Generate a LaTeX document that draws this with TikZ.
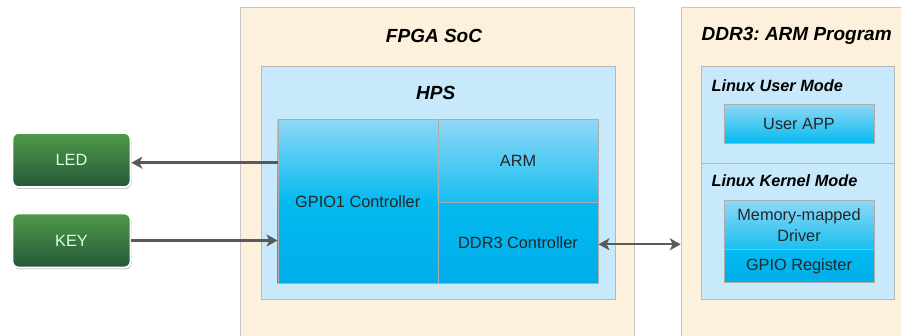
\documentclass[tikz,border=0pt]{standalone}
\usepackage{fontspec}
\setmainfont{Liberation Sans}
\usepackage{tikz}
\usetikzlibrary{arrows.meta,positioning,shadows}
\usepackage{xcolor}

\definecolor{socbg}{HTML}{FDF0DC}
\definecolor{hpsbg}{HTML}{C8E9FB}
\definecolor{celltop}{HTML}{8FD8F6}
\definecolor{cellmid}{HTML}{04BAF0}
\definecolor{cellbot}{HTML}{00ADE9}
\definecolor{iotop}{HTML}{509A4A}
\definecolor{iobot}{HTML}{245838}

\begin{document}
\begin{tikzpicture}[
  x=1pt, y=-1pt,
  panel/.style={draw=black!22, fill=socbg, anchor=north west, inner sep=0pt},
  hpsbox/.style={draw=black!28, fill=hpsbg, anchor=north west, inner sep=0pt},
  cell/.style={draw=black!32, font=\fontsize{16.3}{21}\selectfont, text=black!85,
    align=center, inner sep=0pt},
  io/.style={draw=white, line width=1.8pt, rounded corners=6pt,
    top color=iotop, bottom color=iobot,
    drop shadow={shadow xshift=1pt, shadow yshift=-2pt, opacity=0.2, fill=black},
    minimum width=118, minimum height=54, font=\fontsize{16.3}{19}\selectfont,
    text=white!88!green},
  title/.style={font=\fontsize{19}{22}\selectfont\bfseries\itshape},
  mode/.style={font=\fontsize{16.3}{19}\selectfont\bfseries\itshape, anchor=west},
  tip/.style={},
  link/.style={draw=black!65, line width=2.4pt,
    -{Stealth[length=11pt,width=12pt,inset=3pt]}},
  dlink/.style={draw=black!65, line width=2.4pt,
    {Stealth[length=11pt,width=12pt,inset=3pt]}-{Stealth[length=11pt,width=12pt,inset=3pt]}}
]
  \useasboundingbox (0,0) rectangle (901,336);
  \clip (0,0) rectangle (901,336);

  % FPGA SoC panel
  \node[panel, minimum width=394, minimum height=360] (soc) at (240,7.3) {};
  \node[title] (soct) at (434,36) {FPGA SoC};
  \node[hpsbox, minimum width=354.3, minimum height=233.3] (hps) at (260.7,65.7) {};
  \node[title] (hpst) at (435.7,93) {HPS};

  % HPS blocks
  \node[cell, top color=celltop, bottom color=cellbot, middle color=cellmid,
    minimum width=160, minimum height=164] (gpio) at (357.7,201.3) {GPIO1 Controller};
  \node[cell, top color=celltop, bottom color=cellmid!85!celltop,
    minimum width=160.6, minimum height=82.7] (arm) at (518,160.7) {ARM};
  \node[cell, top color=cellmid, bottom color=cellbot,
    minimum width=160.6, minimum height=81.3] (ddrc) at (518,242.7) {DDR3 Controller};

  % DDR3 program panel
  \node[panel, minimum width=232, minimum height=360] (prog) at (680.7,7.3) {};
  \node[title] (progt) at (796.7,36) {DDR3:\ ARM Program};
  \node[hpsbox, minimum width=193, minimum height=97.6] (umode) at (701,65.7) {};
  \node[hpsbox, minimum width=193, minimum height=135.7] (kmode) at (701,163.3) {};
  \node[mode] (umodet) at (708,85.7) {Linux User Mode};
  \node[mode] (kmodet) at (708,181) {Linux Kernel Mode};
  \node[cell, top color=celltop, bottom color=cellmid,
    minimum width=149.4, minimum height=39.3] (app) at (799,123.7) {User APP};
  \node[cell, top color=celltop, bottom color=cellmid!85!celltop,
    minimum width=149.4, minimum height=49.3] (drv) at (799,224.7) {Memory-mapped\\Driver};
  \node[cell, top color=cellmid, bottom color=cellbot,
    minimum width=149.4, minimum height=33] (reg) at (799,265.8) {GPIO Register};

  % Board I/O
  \node[io] (led) at (71.5,160) {LED};
  \node[io] (key) at (71.5,240.5) {KEY};

  % Connectors
  \draw[link] (gpio.west |- 0,162.7) -- (led.east |- 0,162.7);
  \draw[link] (key.east) -- (key.east -| gpio.west);
  \draw[dlink] (ddrc.east |- 0,244.3) -- (prog.west |- 0,244.3);

\end{tikzpicture}
\end{document}
